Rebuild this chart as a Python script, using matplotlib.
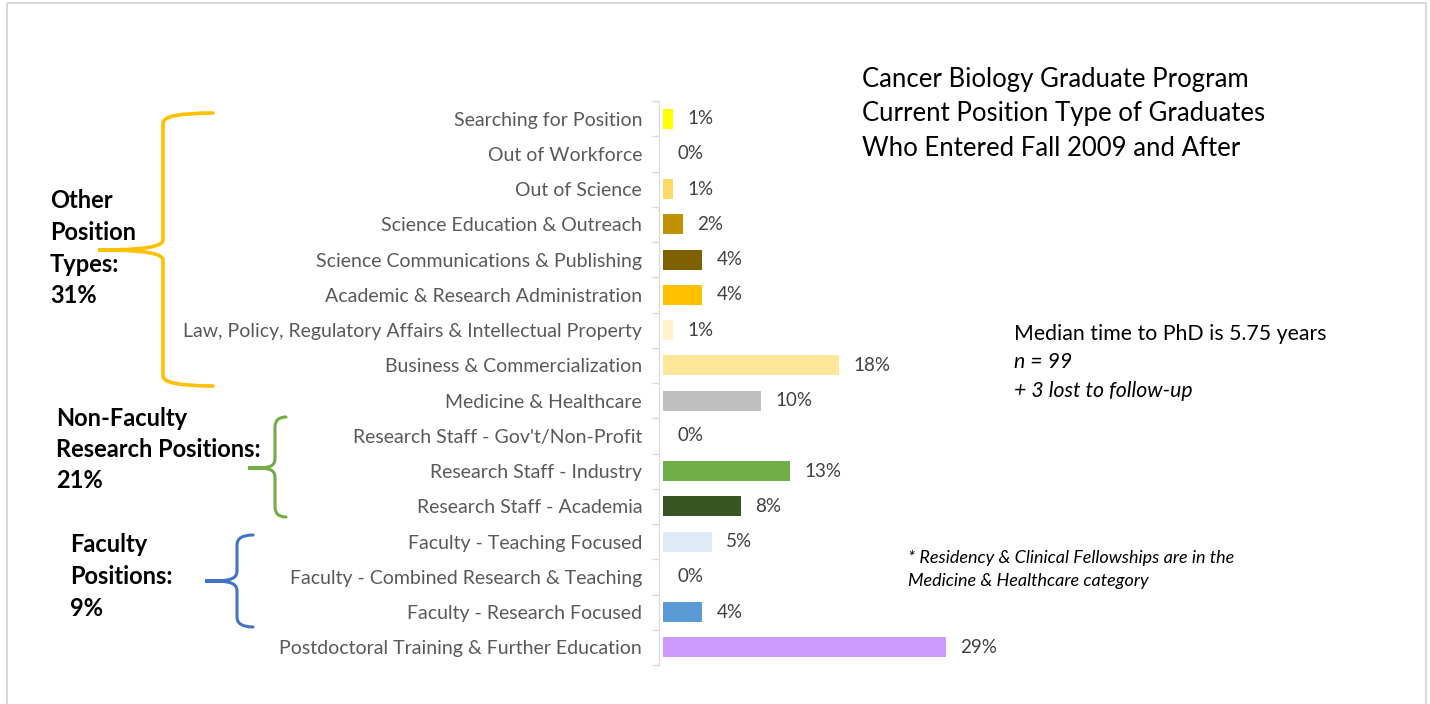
import matplotlib.pyplot as plt
from matplotlib.path import Path
from matplotlib.patches import PathPatch, Rectangle
from matplotlib.transforms import Affine2D

W, H = 1430, 704
plt.rcParams['font.family'] = ['Lato', 'DejaVu Sans']

categories = ["Searching for Position", "Out of Workforce", "Out of Science",
              "Science Education & Outreach", "Science Communications & Publishing",
              "Academic & Research Administration",
              "Law, Policy, Regulatory Affairs & Intellectual Property",
              "Business & Commercialization", "Medicine & Healthcare",
              "Research Staff - Gov't/Non-Profit", "Research Staff - Industry",
              "Research Staff - Academia", "Faculty - Teaching Focused",
              "Faculty - Combined Research & Teaching", "Faculty - Research Focused",
              "Postdoctoral Training & Further Education"]
values = [1, 0, 1, 2, 4, 4, 1, 18, 10, 0, 13, 8, 5, 0, 4, 29]
colors = ["#FFFF00", "#FFFF00", "#FFD966", "#BF9000", "#7F6000", "#FFC000",
          "#FFF2CC", "#FFE699", "#BFBFBF", "#A9D18E", "#70AD47", "#375623",
          "#DDEBF7", "#9DC3E6", "#5B9BD5", "#CC99FF"]

group_labels = [["Other", "Position", "Types:", "31%"],
                ["Non-Faculty", "Research Positions:", "21%"],
                ["Faculty", "Positions:", "9%"]]
title_lines = ["Cancer Biology Graduate Program",
               "Current Position Type of Graduates",
               "Who Entered Fall 2009 and After"]
note_lines = ["* Residency & Clinical Fellowships are in the",
              "Medicine & Healthcare category"]

fig = plt.figure(figsize=(W / 100, H / 100), dpi=100)
# pixel coordinates (origin top-left) -> figure
px = Affine2D().scale(1 / W, -1 / H).translate(0, 1) + fig.transFigure


def ptext(x, y, s, **kw):
    fig.text(x / W, 1 - y / H, s, va='center', ha='left', **kw)


ax = fig.add_axes([663 / W, 1 - 665 / H, 390 / W, 564 / H])
y = list(range(len(categories)))
ax.barh(y, values, height=0.57, color=colors)
for yi, v in zip(y, values):
    ax.annotate(f"{v}%", (v, yi), xytext=(10.5, 0), textcoords='offset points',
                va='center', ha='left', fontsize=13.5, color='#404040')

ax.set_xlim(0, 40)
ax.set_ylim(len(categories) - 0.5, -0.5)
ax.set_yticks(y)
ax.set_yticks([i - 0.5 for i in range(len(categories) + 1)], minor=True)
ax.tick_params(axis='y', which='major', length=0, pad=12, labelsize=14,
               labelcolor='#595959')
ax.tick_params(axis='y', which='minor', length=5, color='#D9D9D9', width=1)
ax.set_yticklabels(categories)
ax.set_xticks([])
for s in ['top', 'right', 'bottom']:
    ax.spines[s].set_visible(False)
ax.spines['left'].set_color('#D9D9D9')
ax.spines['left'].set_position(('outward', 3))


def brace(x_arm, x_spine, x_tip, y_top, y_mid, y_bot, color, lw):
    r = 10
    verts = [(x_arm, y_top), (x_spine, y_top), (x_spine, y_top + r),
             (x_spine, y_mid - r),
             (x_spine, y_mid), (x_tip + 20, y_mid), (x_tip, y_mid),
             (x_tip + 20, y_mid), (x_spine, y_mid), (x_spine, y_mid + r),
             (x_spine, y_bot - r),
             (x_spine, y_bot), (x_arm, y_bot)]
    codes = [Path.MOVETO, Path.CURVE3, Path.CURVE3, Path.LINETO,
             Path.CURVE4, Path.CURVE4, Path.CURVE4,
             Path.CURVE4, Path.CURVE4, Path.CURVE4, Path.LINETO,
             Path.CURVE3, Path.CURVE3]
    fig.add_artist(PathPatch(Path(verts, codes), fill=False, edgecolor=color,
                             lw=lw, transform=px, capstyle='round'))


brace(213, 163, 98, 113, 250, 386, '#FFC000', 2.6)
brace(286, 275, 248, 417, 468, 517, '#70AD47', 2.2)
brace(253, 237, 205, 535, 581, 627, '#4472C4', 2.2)

# group labels: x, first line y, line step (pixels)
for lines, (gx, gy) in zip(group_labels, [(50, 201), (56, 418), (70, 545)]):
    for k, line in enumerate(lines):
        ptext(gx, gy + k * 31.5, line, fontsize=17, fontweight='bold')

for k, line in enumerate(title_lines):
    ptext(862, 80 + k * 34, line, fontsize=18.5)

ptext(1014, 334, "Median time to PhD is 5.75 years", fontsize=15.3)
ptext(1014, 362, "n = 99", fontsize=15.3, style='italic')
ptext(1014, 391, "+ 3 lost to follow-up", fontsize=15.3, style='italic')

for k, line in enumerate(note_lines):
    ptext(908, 558 + k * 23, line, fontsize=13, style='italic')

fig.add_artist(Rectangle((7, 3), 1419, 720, fill=False, edgecolor='#D9D9D9',
                         lw=1.5, transform=px))

fig.savefig("out.png", dpi=100)
